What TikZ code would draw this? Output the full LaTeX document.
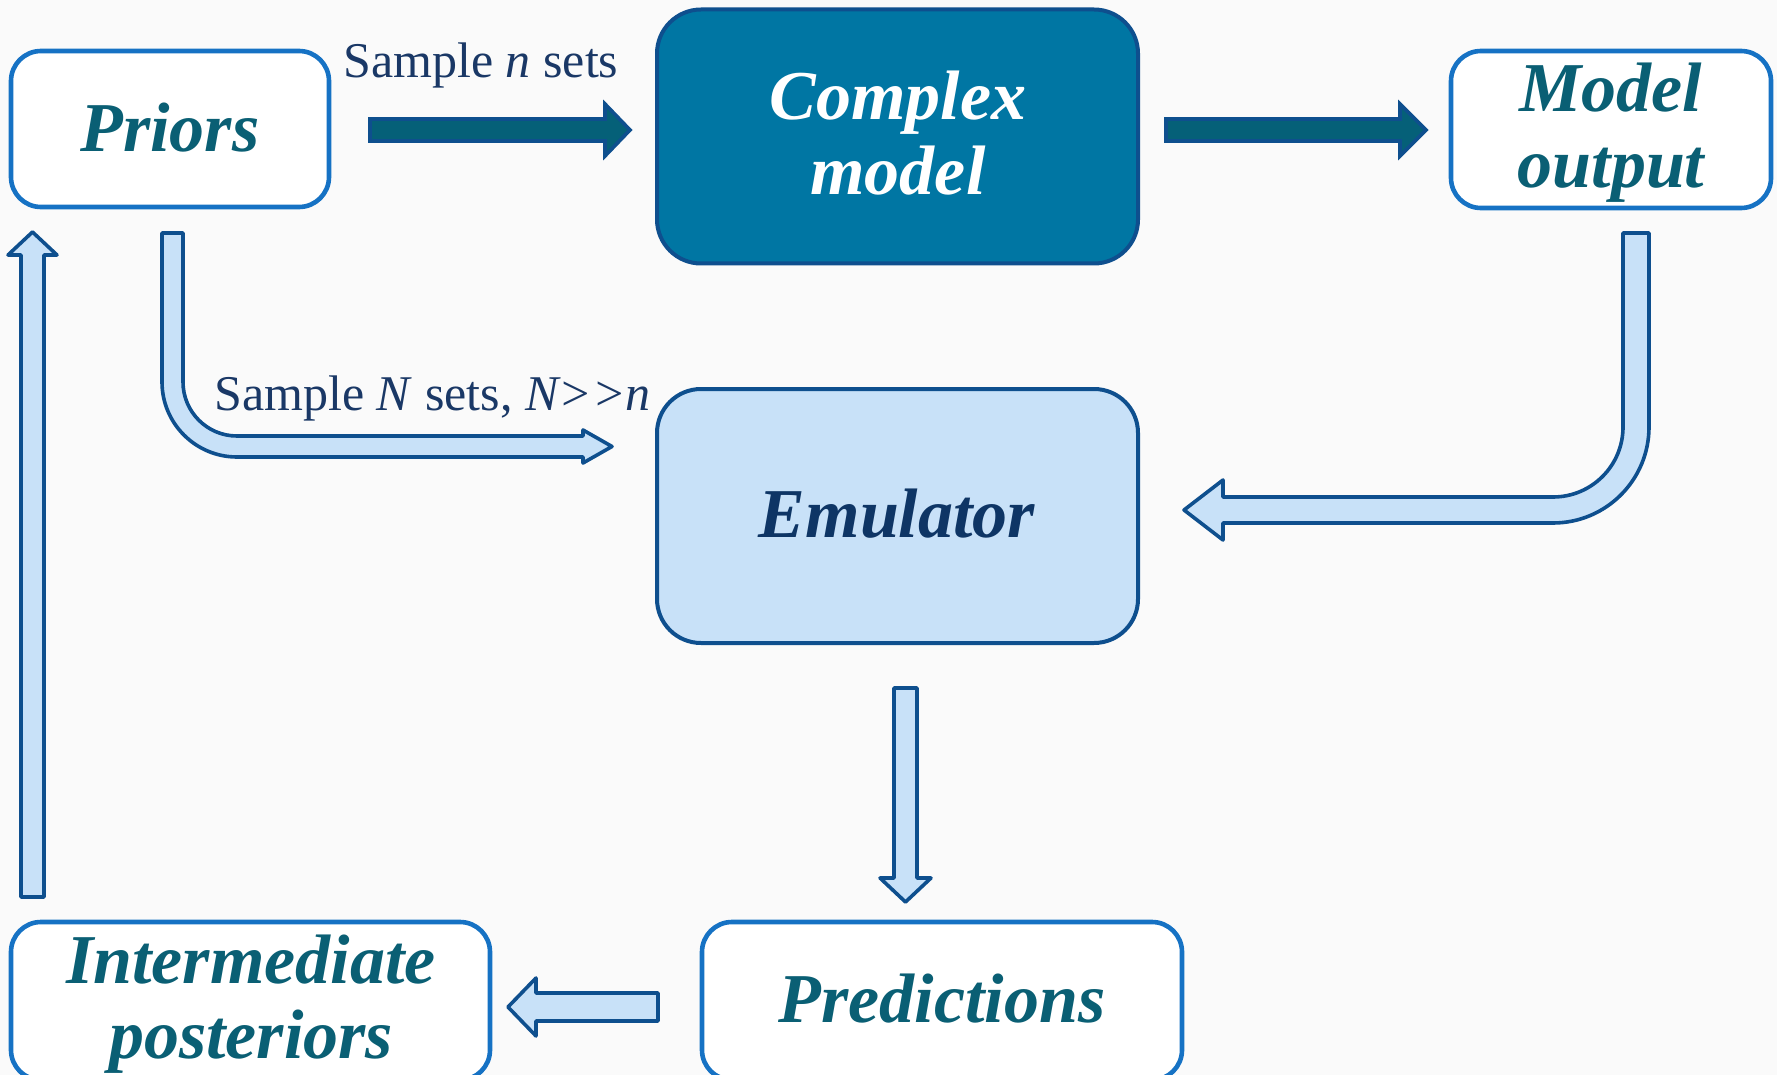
\documentclass[tikz,border=0pt]{standalone}
\usepackage{fontspec}
\setmainfont{Liberation Serif}
\definecolor{bgc}{HTML}{FAFAFA}
\definecolor{boxblue}{HTML}{1672C4}
\definecolor{bordblue}{HTML}{0E4F8E}
\definecolor{cmfill}{HTML}{0076A3}
\definecolor{darkarrow}{HTML}{056078}
\definecolor{lightfill}{HTML}{C8E1F8}
\definecolor{tealtxt}{HTML}{0A5F74}
\definecolor{navytxt}{HTML}{0E3565}
\definecolor{smptxt}{HTML}{1A3866}
\tikzset{
  wbox/.style={draw=boxblue, line width=2.3pt, fill=white, rounded corners=15pt, inner sep=0pt, outer sep=0pt},
  bigbox/.style={draw=bordblue, line width=2pt, rounded corners=22pt, inner sep=0pt, outer sep=0pt, minimum width=240.5pt, minimum height=127pt},
  lbl/.style={font=\fontsize{35}{42}\selectfont\bfseries\itshape, anchor=base, inner sep=0pt},
  smp/.style={font=\fontsize{25}{30}\selectfont, text=smptxt, anchor=base west, inner sep=0pt},
  darrow/.style={fill=darkarrow, draw=bordblue, line width=1.8pt, line join=miter},
  larrow/.style={fill=lightfill, draw=bordblue, line width=1.8pt, line join=round},
}
\begin{document}
\begin{tikzpicture}[x=0.5pt,y=-0.5pt]
\useasboundingbox (0,0) rectangle (1777,1075);
\clip (0,0) rectangle (1777,1075);
\fill[bgc] (0,0) rectangle (1777,1075);

% boxes
\node[wbox, minimum width=159pt, minimum height=78pt] (priors) at (170,129) {};
\node[bigbox, fill=cmfill] (complex) at (897.5,136.5) {};
\node[wbox, minimum width=160pt, minimum height=78.5pt] (mout) at (1611,129.5) {};
\node[bigbox, fill=lightfill] (emul) at (897.5,516) {};
\node[wbox, minimum width=240pt, minimum height=79pt] (pred) at (942,1001) {};
\node[wbox, minimum width=239.5pt, minimum height=79pt] (inter) at (250.5,1001) {};

% texts
\node[lbl, text=tealtxt] (tpriors) at (170,152) {Priors};
\node[lbl, text=white] (tcomplex1) at (898,120) {Complex};
\node[lbl, text=white] (tcomplex2) at (898,195) {model};
\node[lbl, text=tealtxt] (tmout1) at (1611,112) {Model};
\node[lbl, text=tealtxt] (tmout2) at (1611,188) {output};
\node[lbl, text=navytxt] (temul) at (897,537) {Emulator};
\node[lbl, text=tealtxt] (tpred) at (942,1022) {Predictions};
\node[lbl, text=tealtxt] (tinter1) at (251,983) {Intermediate};
\node[lbl, text=tealtxt] (tinter2) at (251,1058) {posteriors};

\node[smp] (sn) at (343,78) {Sample \textit{n} sets};
\node[smp] (sN) at (214,410) {Sample \textit{N} sets, \textit{N>\kern0pt>n}};

% dark arrows
\draw[darrow] (370,119) -- (605,119) -- (605,104) -- (630,130) -- (605,156) -- (605,141) -- (370,141) -- cycle;
\draw[darrow] (1166,119) -- (1400,119) -- (1400,104) -- (1426,130) -- (1400,156) -- (1400,141) -- (1166,141) -- cycle;

% bent arrow priors -> emulator
\draw[larrow] (162,233) -- (162,382) arc[start angle=180, end angle=270, radius=37.5pt]
  -- (583,457) -- (583,463) -- (612,446.5) -- (583,430) -- (583,436) -- (237,436)
  arc[start angle=270, end angle=180, radius=27pt] -- (183,233) -- cycle;

% bent arrow model output -> emulator
\draw[larrow] (1649,233) -- (1649,427) arc[start angle=0, end angle=-90, radius=48pt]
  -- (1223,523) -- (1223,540) -- (1184,510) -- (1223,480) -- (1223,497) -- (1553,497)
  arc[start angle=-90, end angle=0, radius=35pt] -- (1623,233) -- cycle;

% emulator -> predictions
\draw[larrow] (894,688) -- (917,688) -- (917,878) -- (931,878) -- (905.5,902) -- (880,878) -- (894,878) -- cycle;

% predictions -> intermediate
\draw[larrow] (658,993) -- (658,1021) -- (536,1021) -- (536,1036) -- (508,1007) -- (536,978) -- (536,993) -- cycle;

% intermediate -> priors
\draw[larrow] (21,897) -- (21,255) -- (8,255) -- (32.5,232) -- (57,255) -- (44,255) -- (44,897) -- cycle;
\end{tikzpicture}
\end{document}
